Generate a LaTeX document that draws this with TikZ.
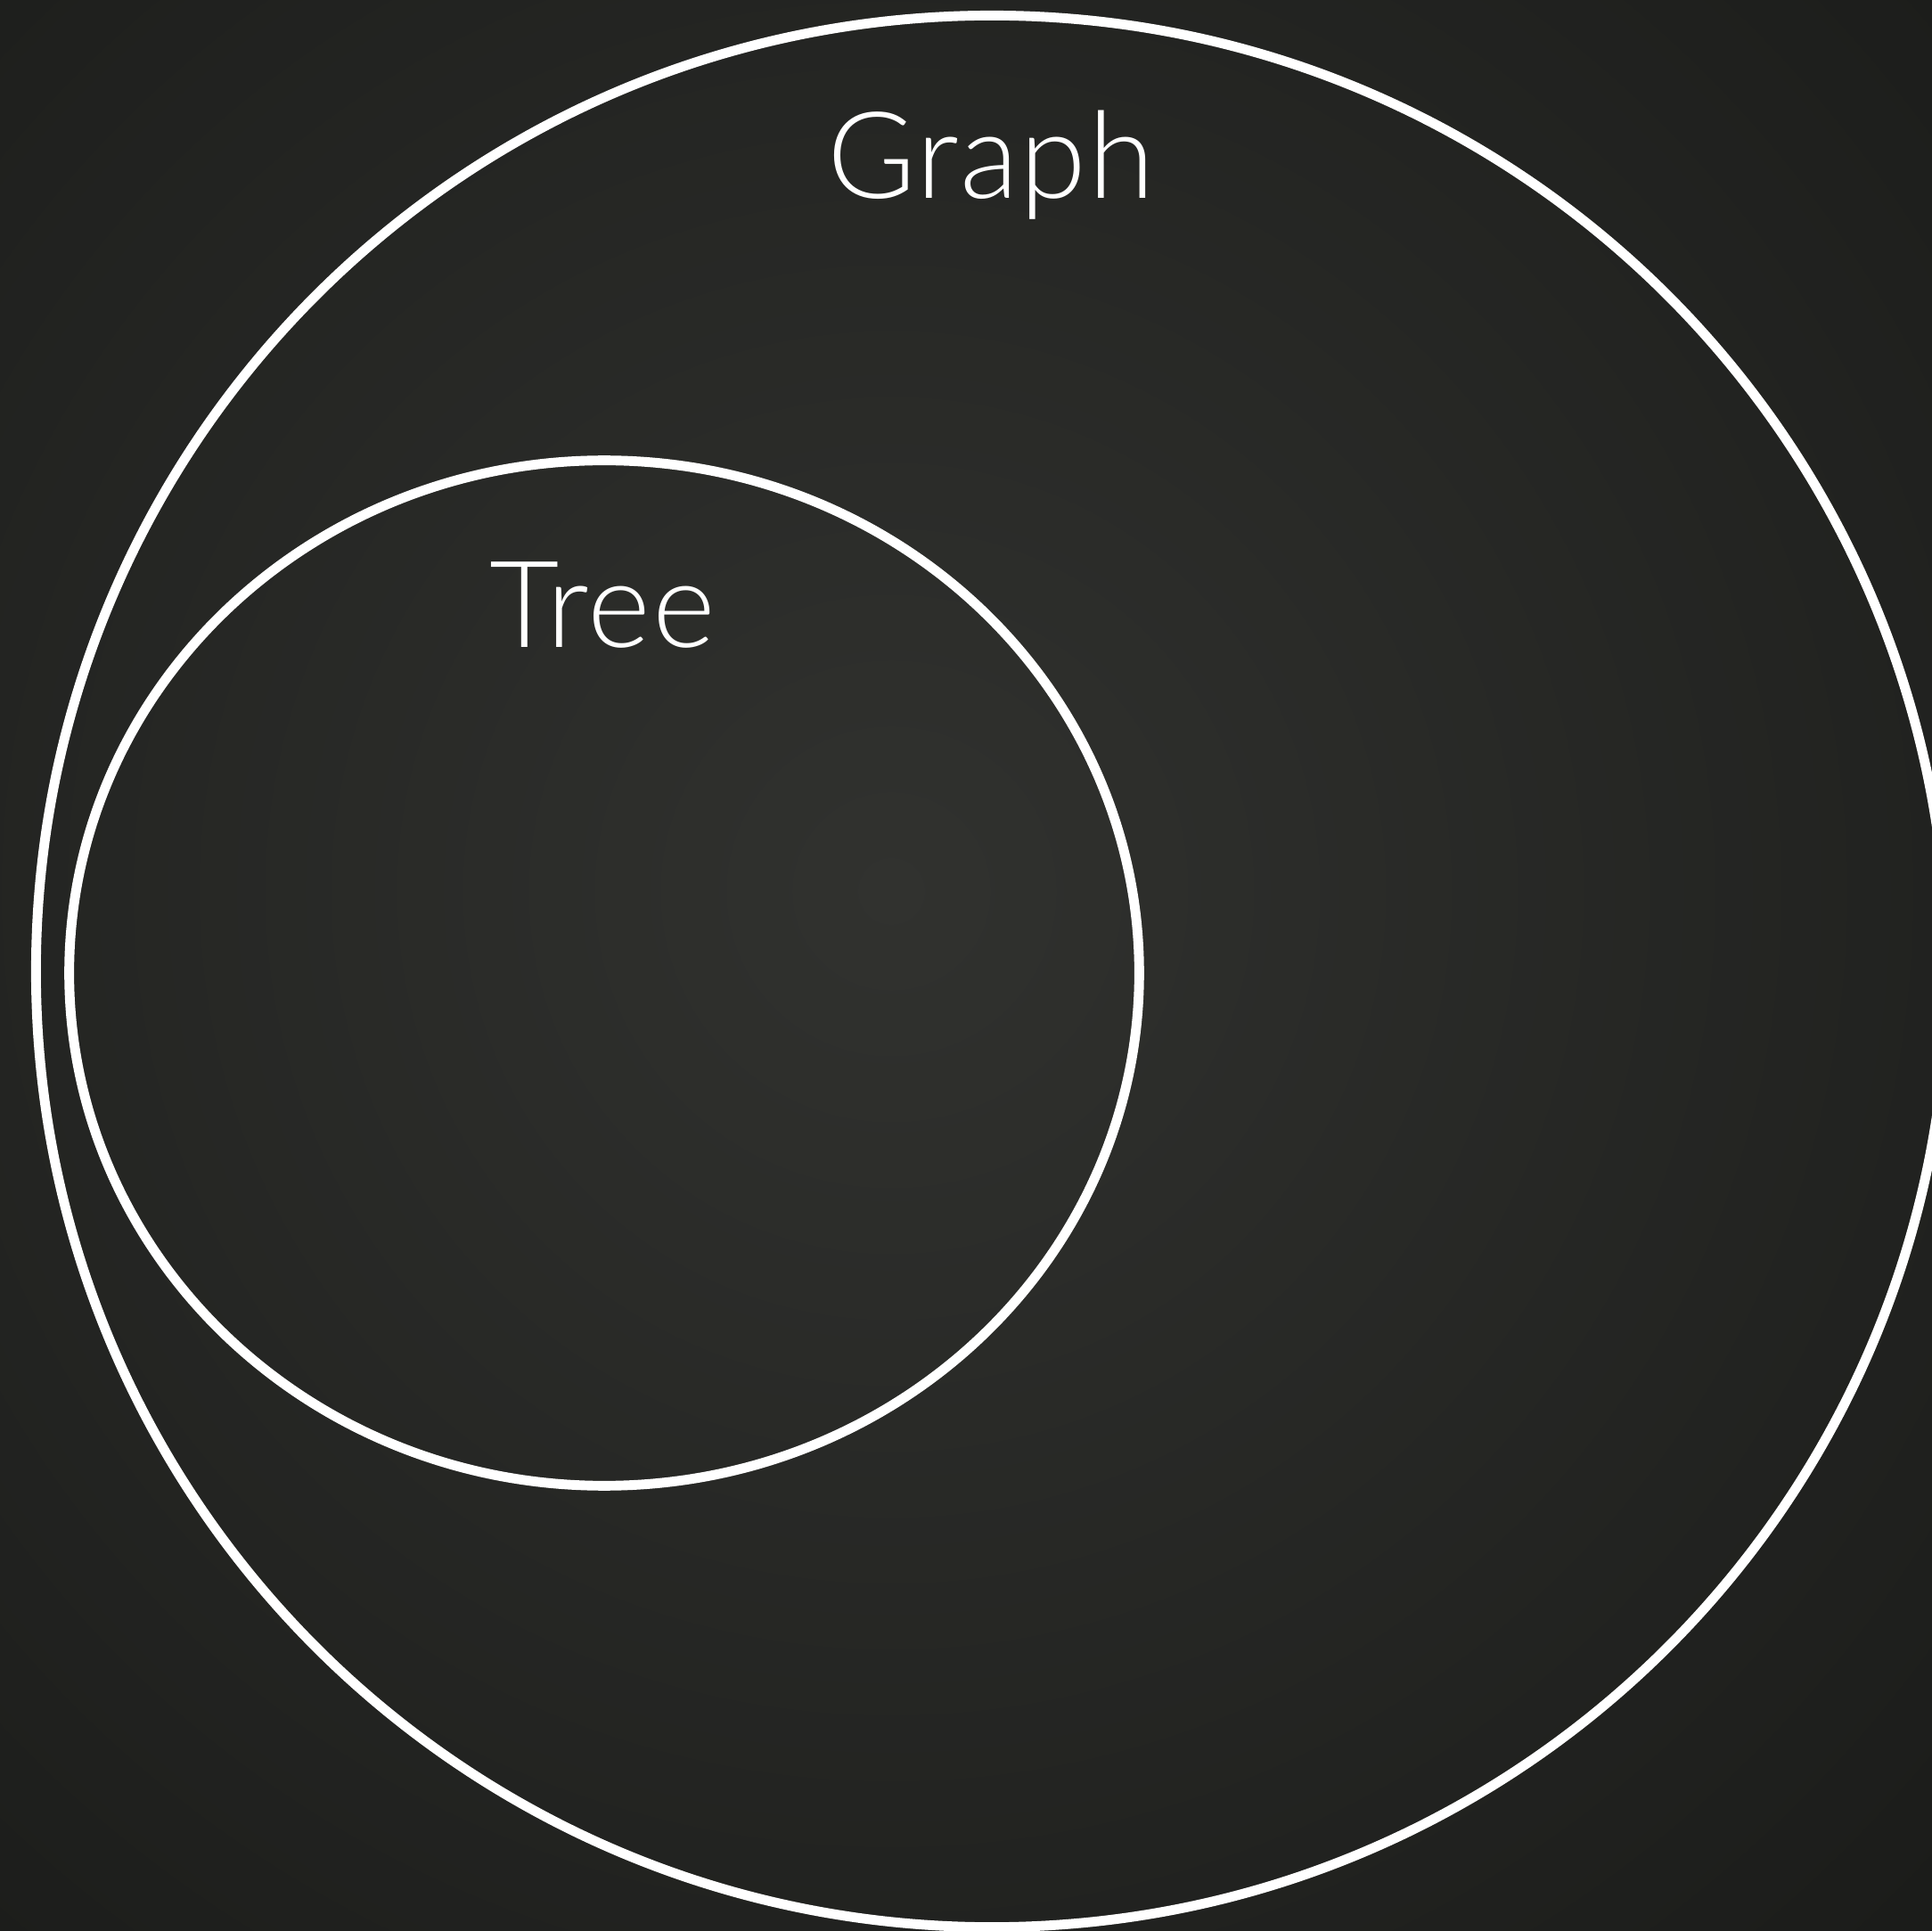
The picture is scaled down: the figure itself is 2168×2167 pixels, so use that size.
\documentclass[tikz,border=0pt]{standalone}
\usepackage{fontspec}
\setmainfont{Lato}[UprightFont={* Light}, LetterSpace=1.5]
\usetikzlibrary{positioning}
\definecolor{slateCore}{HTML}{31322F}
\definecolor{slateEdge}{HTML}{1A1B19}

\begin{document}
\begin{tikzpicture}[
    x=0.01cm, y=-0.01cm,
    setline/.style={draw=white, line width=3.1pt},
    setlabel/.style={text=white, font=\fontsize{38.5}{46}\selectfont,
                     inner sep=0pt, anchor=base},
  ]
    \useasboundingbox (0,0) rectangle (2168,2167);
    \begin{scope}
      \clip (0,0) rectangle (2168,2167);
      \shade[inner color=slateCore, outer color=slateEdge] (1000,1000) circle[radius=17cm];
    \end{scope}

    \coordinate (graphmid) at (1113,1090);
    \coordinate (treemid) at (678,1092);
    \draw[setline] (graphmid) ellipse[x radius=10.72cm, y radius=10.72cm];
    \draw[setline] (treemid) ellipse[x radius=6.00cm, y radius=5.75cm];

    \node[setlabel] (graphlabel) at (1112,223) {Graph};
    \node[setlabel] (treelabel) at (676,727) {Tree};
  \end{tikzpicture}
\end{document}
